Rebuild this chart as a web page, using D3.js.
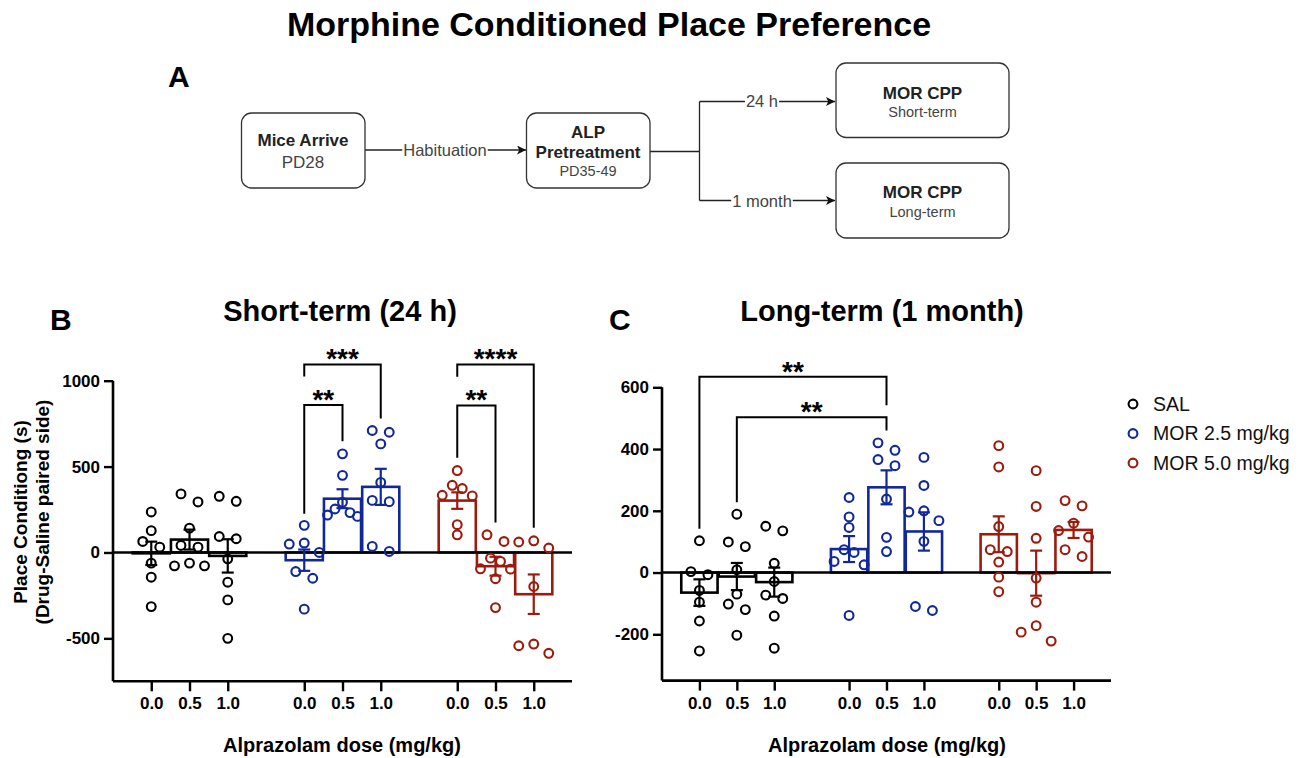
<!DOCTYPE html>
<html><head><meta charset="utf-8">
<script src="https://cdn.jsdelivr.net/npm/d3@7"></script>
<style>body{margin:0;background:#fff} svg{font-family:"Liberation Sans",Arial,Helvetica,sans-serif}</style>
</head><body><svg id="c" width="1309" height="758"></svg>
<script>
// ---------- DATA ----------
const doses = ["0.0", "0.5", "1.0"];
const groups = ["SAL", "MOR 2.5 mg/kg", "MOR 5.0 mg/kg"];

// Short-term (24 h) individual points, per group, per alprazolam dose
const shortSAL   = [[236,127,64,31,-62,-144,-315],[341,294,142,41,31,-62,-78,-78],[327,298,93,80,-37,-173,-276,-500]];
const shortMOR25 = [[158,55,49,0,-111,-150,-330],[574,449,292,253,232,218,210],[710,700,632,408,303,296,35,6]];
const shortMOR50 = [[477,391,372,333,329,162,103],[103,64,-33,-52,-95,-97,-153,-321],[68,61,26,-198,-533,-543,-587]];
const shortMeans = [[-5,75,-20],[-45,313,382],[302,-80,-243]];
const shortSEM   = [[68,58,97],[62,55,105],[48,55,115]];

// Long-term (1 month)
const longSAL   = [[103,3,-7,-58,-96,-157,-254],[189,99,84,9,-70,-102,-120,-203],[150,135,30,-29,-73,-84,-141,-245]];
const longMOR25 = [[243,180,146,74,65,36,25,-139],[420,396,366,346,238,114,68],[373,282,200,196,168,101,-110,-123]];
const longMOR50 = [[411,342,149,74,68,34,-15,-62],[330,214,111,-18,-96,-172,-193,-222],[233,216,160,136,115,74,52]];
const longMeans = [[-65,-13,-31],[76,276,133],[124,-2,138]];
const longSEM   = [[43,44,47],[42,55,62],[58,73,26]];

// significance brackets: [group,dose] -> [group,dose], level, leg ends (data units)
const shortBrackets = [
  {from:[1,0], to:[1,2], label:"***",  level:1095, endA:1025, endB:780},
  {from:[1,0], to:[1,1], label:"**",   level:858,  endA:226,  endB:648},
  {from:[2,0], to:[2,2], label:"****", level:1095, endA:1023, endB:144},
  {from:[2,0], to:[2,1], label:"**",   level:856,  endA:552,  endB:175}
];
const longBrackets = [
  {from:[0,0], to:[1,1], label:"**", level:634, endA:142, endB:542},
  {from:[0,1], to:[1,1], label:"**", level:503, endA:228, endB:460}
];
const shortTicks = [-500, 0, 500, 1000];
const longTicks = [-200, 0, 200, 400, 600];

// flow diagram text
const flowTitle = "Morphine Conditioned Place Preference";
const box1 = ["Mice Arrive", "PD28"];
const box2 = ["ALP", "Pretreatment", "PD35-49"];
const box3 = ["MOR CPP", "Short-term"];
const box4 = ["MOR CPP", "Long-term"];
const flowLabels = ["Habituation", "24 h", "1 month"];

// ---------- STYLE ----------
const colors = ["#000000", "#11289a", "#9c1b0d"];
const svg = d3.select("#c");

// ---------- TITLE & DIAGRAM ----------
svg.append("text").attr("x", 609).attr("y", 36).attr("text-anchor","middle")
  .attr("font-weight","bold").attr("font-size",34).text(flowTitle);
svg.append("text").attr("x", 168).attr("y", 87).attr("font-weight","bold").attr("font-size",30).text("A");

const defs = svg.append("defs");
defs.append("marker").attr("id","arr").attr("viewBox","0 0 10 10").attr("refX",10).attr("refY",5)
  .attr("markerWidth",9).attr("markerHeight",9).attr("markerUnits","userSpaceOnUse").attr("orient","auto")
  .append("path").attr("d","M0,0 L10,5 L0,10 L2.5,5 Z").attr("fill","#111");

function box(x0,x1,y0,y1){
  svg.append("rect").attr("x",x0).attr("y",y0).attr("width",x1-x0).attr("height",y1-y0)
    .attr("rx",10).attr("fill","#fff").attr("stroke","#333").attr("stroke-width",1.3);
}
const lineC = "#222";
function seg(pts, arrow){
  const p = svg.append("path").attr("d", d3.line()(pts)).attr("fill","none").attr("stroke",lineC).attr("stroke-width",1.3);
  if(arrow) p.attr("marker-end","url(#arr)");
}
function label(x,y,t){
  const g = svg.append("g");
  const tx = g.append("text").attr("x",x).attr("y",y).attr("text-anchor","middle").attr("font-size",16.5)
    .attr("fill","#444").text(t);
  const bb = tx.node().getBBox();
  g.insert("rect","text").attr("x",bb.x-1).attr("y",bb.y).attr("width",bb.width+2).attr("height",bb.height).attr("fill","#fff");
}
// connectors
seg([[365,150],[526,150]], true);
label(445, 156, flowLabels[0]);
seg([[650,151.5],[699.5,151.5]], false);
seg([[699.5,101.5],[699.5,200.5]], false);
seg([[699.5,101.5],[835,101.5]], true);
seg([[699.5,200.5],[835,200.5]], true);
label(762, 107, flowLabels[1]);
label(762, 206.5, flowLabels[2]);

box(241.5,365,113,188);
svg.append("text").attr("x",303).attr("y",146).attr("text-anchor","middle").attr("font-weight","bold").attr("font-size",17).attr("fill","#222").text(box1[0]);
svg.append("text").attr("x",303).attr("y",168).attr("text-anchor","middle").attr("font-size",17).attr("fill","#444").text(box1[1]);
box(526.5,650,113,188);
svg.append("text").attr("x",588).attr("y",138).attr("text-anchor","middle").attr("font-weight","bold").attr("font-size",17).attr("fill","#222").text(box2[0]);
svg.append("text").attr("x",588).attr("y",158).attr("text-anchor","middle").attr("font-weight","bold").attr("font-size",17).attr("fill","#222").text(box2[1]);
svg.append("text").attr("x",588).attr("y",176).attr("text-anchor","middle").attr("font-size",14.5).attr("fill","#444").text(box2[2]);
box(836,1009,63,137.5);
svg.append("text").attr("x",922.5).attr("y",99).attr("text-anchor","middle").attr("font-weight","bold").attr("font-size",17).attr("fill","#222").text(box3[0]);
svg.append("text").attr("x",922.5).attr("y",116.5).attr("text-anchor","middle").attr("font-size",14.5).attr("fill","#444").text(box3[1]);
box(836,1009,163,238);
svg.append("text").attr("x",922.5).attr("y",197.5).attr("text-anchor","middle").attr("font-weight","bold").attr("font-size",17).attr("fill","#222").text(box4[0]);
svg.append("text").attr("x",922.5).attr("y",216.5).attr("text-anchor","middle").attr("font-size",14.5).attr("fill","#444").text(box4[1]);

// ---------- PANELS ----------
function swarm(vals, ys){
  const idx = vals.map((v,i)=>i).sort((a,b)=>vals[b]-vals[a]);
  const off = new Array(vals.length).fill(0);
  const clusters = []; let cur = [idx[0]];
  for(let k=1;k<idx.length;k++){
    if(ys(vals[idx[k]]) - ys(vals[idx[k-1]]) < 9) cur.push(idx[k]);
    else { clusters.push(cur); cur=[idx[k]]; }
  }
  clusters.push(cur);
  clusters.forEach(c=>{
    const n=c.length; if(n<2) return;
    const sp = Math.min(17, 30/(n-1));
    const slots = d3.range(n).map(i=>(i-(n-1)/2)*sp).sort((a,b)=>Math.abs(a)-Math.abs(b)||a-b);
    c.forEach((id,j)=>off[id]=slots[j]);
  });
  return off;
}

function panel(cfg){
  const g = svg.append("g");
  const x = d3.scaleLinear().domain([-1,11]).range([cfg.x0, cfg.x1]);
  const y = d3.scaleLinear().domain(cfg.yDomain).range([cfg.yBottom, cfg.yTop]);
  const step = x(1)-x(0);
  const pos = (gi,di)=> x(gi*4+di);
  const pts = cfg.points;

  // bars
  pts.forEach((grp,gi)=>grp.forEach((vals,di)=>{
    const m = cfg.means[gi][di];
    g.append("rect").attr("x",pos(gi,di)-step*0.485).attr("width",step*0.97)
      .attr("y",Math.min(y(m),y(0))).attr("height",Math.abs(y(m)-y(0)))
      .attr("fill","#fff").attr("stroke",colors[gi]).attr("stroke-width",2.6);
  }));
  // zero line
  g.append("line").attr("x1",cfg.x0).attr("x2",cfg.x1).attr("y1",y(0)).attr("y2",y(0))
    .attr("stroke","#000").attr("stroke-width",2.6);
  // points
  pts.forEach((grp,gi)=>grp.forEach((vals,di)=>{
    const off = swarm(vals,y);
    vals.forEach((v,i)=>{
      g.append("circle").attr("cx",pos(gi,di)+off[i]).attr("cy",y(v)).attr("r",4.4)
        .attr("fill","none").attr("stroke",colors[gi]).attr("stroke-width",2.1);
    });
  }));
  // error bars
  pts.forEach((grp,gi)=>grp.forEach((vals,di)=>{
    const m = cfg.means[gi][di], s = cfg.sems[gi][di], cx = pos(gi,di);
    const c = colors[gi];
    g.append("line").attr("x1",cx).attr("x2",cx).attr("y1",y(m-s)).attr("y2",y(m+s)).attr("stroke",c).attr("stroke-width",2.2);
    [m-s,m+s].forEach(v=>g.append("line").attr("x1",cx-6).attr("x2",cx+6).attr("y1",y(v)).attr("y2",y(v)).attr("stroke",c).attr("stroke-width",2.2));
  }));
  // y axis
  const ya = g.append("g").attr("transform",`translate(${cfg.x0},0)`)
    .call(d3.axisLeft(y).tickValues(cfg.ticks).tickSize(9).tickPadding(4).tickFormat(d3.format("d")));
  ya.select(".domain").attr("d",`M0,${y(cfg.yDomain[1])}V${y(cfg.yDomain[0])}`).attr("stroke","#000").attr("stroke-width",2.6);
  ya.selectAll(".tick line").attr("stroke","#000").attr("stroke-width",2.4);
  ya.selectAll(".tick text").attr("font-size",17).attr("font-weight","bold").attr("fill","#000")
    .attr("font-family","Liberation Sans, Arial, sans-serif").text(d=>d<0?"-"+Math.abs(d):d);
  // x axis (bottom line + ticks at each dose)
  const tickPos = []; const tickLab = [];
  for(let gi=0;gi<3;gi++) for(let di=0;di<3;di++){ tickPos.push(gi*4+di); tickLab.push(doses[di]); }
  const xa = g.append("g").attr("transform",`translate(0,${cfg.yBottom})`)
    .call(d3.axisBottom(x).tickValues(tickPos).tickSize(10).tickPadding(6).tickFormat((d,i)=>tickLab[i]));
  xa.select(".domain").attr("d",`M${cfg.x0},0H${cfg.x1}`).attr("stroke","#000").attr("stroke-width",2.6);
  xa.selectAll(".tick line").attr("stroke","#000").attr("stroke-width",2.4);
  xa.selectAll(".tick text").attr("font-size",17).attr("font-weight","bold").attr("fill","#000")
    .attr("font-family","Liberation Sans, Arial, sans-serif");
  // x label
  g.append("text").attr("x",cfg.xLabelX).attr("y",752).attr("text-anchor","middle")
    .attr("font-weight","bold").attr("font-size",20).text("Alprazolam dose (mg/kg)");
  // title & letter
  g.append("text").attr("x",cfg.titleX).attr("y",321).attr("text-anchor","middle")
    .attr("font-weight","bold").attr("font-size",29).text(cfg.title);
  g.append("text").attr("x",cfg.letterX).attr("y",330).attr("font-weight","bold").attr("font-size",30).text(cfg.letter);
  // brackets
  cfg.brackets.forEach(b=>{
    const xa1 = pos(b.from[0],b.from[1]), xb1 = pos(b.to[0],b.to[1]);
    g.append("path").attr("d",d3.line()([[xa1,y(b.endA)],[xa1,y(b.level)],[xb1,y(b.level)],[xb1,y(b.endB)]]))
      .attr("fill","none").attr("stroke","#000").attr("stroke-width",2);
    g.append("text").attr("x",(xa1+xb1)/2).attr("y",y(b.level)+4).attr("text-anchor","middle")
      .attr("font-weight","bold").attr("font-size",28).text(b.label);
  });
}

panel({x0:113, x1:572, yDomain:[-750,1000], yBottom:681.3, yTop:380.7, ticks:shortTicks,
  points:[shortSAL,shortMOR25,shortMOR50], means:shortMeans, sems:shortSEM, brackets:shortBrackets,
  title:"Short-term (24 h)", titleX:340, letter:"B", letterX:50, xLabelX:342});
panel({x0:662, x1:1111, yDomain:[-350,600], yBottom:680.6, yTop:387.3, ticks:longTicks,
  points:[longSAL,longMOR25,longMOR50], means:longMeans, sems:longSEM, brackets:longBrackets,
  title:"Long-term (1 month)", titleX:882, letter:"C", letterX:609, xLabelX:887});

// y axis label (panel B)
const yl = svg.append("g").attr("transform","translate(0,512) rotate(-90)");
yl.append("text").attr("x",0).attr("y",27).attr("text-anchor","middle").attr("font-weight","bold").attr("font-size",19).text("Place Conditiong (s)");
yl.append("text").attr("x",0).attr("y",49).attr("text-anchor","middle").attr("font-weight","bold").attr("font-size",19).text("(Drug-Saline paired side)");

// legend
groups.forEach((gname,i)=>{
  svg.append("circle").attr("cx",1133).attr("cy",404+i*29.5).attr("r",4.4).attr("fill","none")
    .attr("stroke",colors[i]).attr("stroke-width",2.1);
  svg.append("text").attr("x",1153).attr("y",410.5+i*29.5).attr("font-size",19.5).attr("fill","#111").text(gname);
});
</script></body></html>
